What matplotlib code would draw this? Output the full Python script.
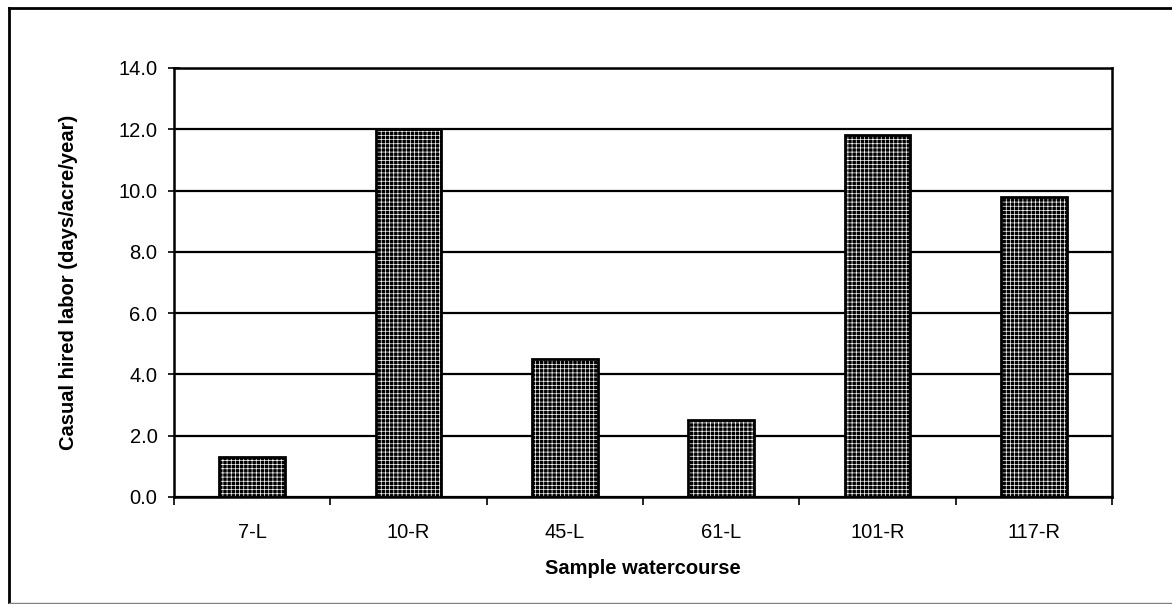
import matplotlib.pyplot as plt
from matplotlib.lines import Line2D
import numpy as np

plt.rcParams['font.family'] = ['Liberation Sans', 'DejaVu Sans']
plt.rcParams['hatch.linewidth'] = 0.5

categories = ['7-L', '10-R', '45-L', '61-L', '101-R', '117-R']
labor_days = [1.3, 12.0, 4.5, 2.5, 11.8, 9.8]
y_ticks = [0, 2, 4, 6, 8, 10, 12, 14]

fig = plt.figure(figsize=(11.72, 6.04), dpi=100)
ax = fig.add_axes([0.1485, 0.1772, 0.8003, 0.7103])

x = np.arange(len(categories))
# patterned fill, then a black outline on top
ax.bar(x, labor_days, width=0.42, color='black', edgecolor='white',
       hatch='++++', linewidth=0, zorder=3)
ax.bar(x, labor_days, width=0.42, facecolor='none', edgecolor='black',
       linewidth=2, zorder=4)

ax.set_xlim(-0.5, len(categories) - 0.5)
ax.set_ylim(0, 14)
ax.set_yticks(y_ticks)
ax.set_yticklabels([f'{v:.1f}' for v in y_ticks], fontsize=14.5)
ax.yaxis.grid(True, color='black', linewidth=1.6, zorder=1)
ax.set_axisbelow(True)

ax.set_xticks(x)
ax.set_xticklabels(categories, fontsize=14.5)
ax.set_xticks(np.arange(-0.5, len(categories)), minor=True)
ax.tick_params(axis='x', which='major', length=0, pad=19)
ax.tick_params(axis='x', which='minor', length=6, width=1.2, direction='out')
ax.tick_params(axis='y', length=8, width=1.2, direction='inout', pad=8)

for side in ['left', 'right', 'top', 'bottom']:
    ax.spines[side].set_linewidth(1.8)

ax.set_xlabel('Sample watercourse', fontsize=14.5, fontweight='bold', labelpad=12)
ax.set_ylabel('Casual hired labor (days/acre/year)', fontsize=14.5,
              fontweight='bold', labelpad=29)

# outer chart border (top and left only, as in the scan)
fig.add_artist(Line2D([9 / 1172, 1.0], [1 - 8 / 604, 1 - 8 / 604],
                      color='black', linewidth=2, transform=fig.transFigure))
fig.add_artist(Line2D([9 / 1172, 9 / 1172], [0.0, 1 - 8 / 604],
                      color='black', linewidth=2, transform=fig.transFigure))
fig.add_artist(Line2D([9 / 1172, 1.0], [1.5 / 604, 1.5 / 604],
                      color='gray', linewidth=1, transform=fig.transFigure))

plt.savefig('out.png', dpi=100)
